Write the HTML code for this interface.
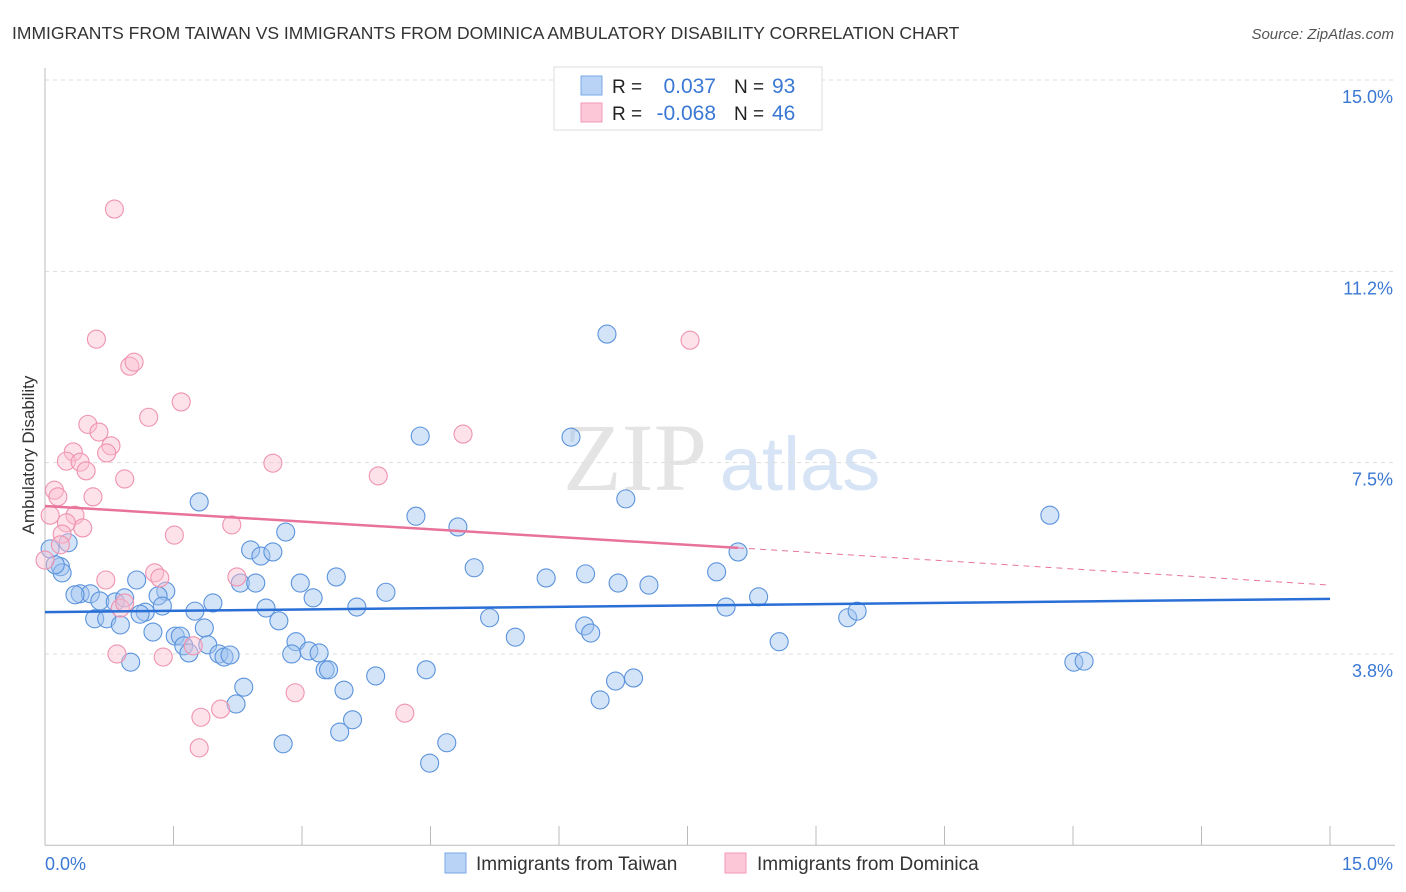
<!DOCTYPE html>
<html><head><meta charset="utf-8"><style>
body{margin:0;background:#fff;font-family:"Liberation Sans",sans-serif;}
svg{display:block}
</style></head><body>
<svg id="chart" width="1406" height="892">
<text x="12" y="39" font-size="17.5" fill="#333">IMMIGRANTS FROM TAIWAN VS IMMIGRANTS FROM DOMINICA AMBULATORY DISABILITY CORRELATION CHART</text>
<text x="1394" y="39" font-size="15" fill="#555" font-style="italic" text-anchor="end">Source: ZipAtlas.com</text>
<text x="34" y="455" font-size="17" fill="#333" text-anchor="middle" transform="rotate(-90 34 455)">Ambulatory Disability</text>
<g><text x="635" y="490" font-size="96" fill="#e4e4e4" font-family="Liberation Serif,serif" text-anchor="middle">ZIP</text><text x="800" y="490" font-size="76" fill="#d6e4f5" text-anchor="middle">atlas</text></g>
<g id="grid"></g><g id="axes"></g><g id="pts"></g><g id="lines"></g>
<g>
<rect x="554" y="67" width="268" height="63" fill="#fff" stroke="#ddd"/>
<rect x="581" y="76" width="21" height="19" fill="#b8d3f5" stroke="#7aa8e6"/>
<rect x="581" y="103" width="21" height="19" fill="#fcc8d7" stroke="#f09ab4"/>
<text x="612" y="93" font-size="19" fill="#222">R = </text><text x="716" y="93" font-size="21" fill="#3a78d4" text-anchor="end">0.037</text>
<text x="734" y="93" font-size="19" fill="#222">N = </text><text x="772" y="93" font-size="21" fill="#3a78d4">93</text>
<text x="612" y="120" font-size="19" fill="#222">R = </text><text x="716" y="120" font-size="21" fill="#3a78d4" text-anchor="end">-0.068</text>
<text x="734" y="120" font-size="19" fill="#222">N = </text><text x="772" y="120" font-size="21" fill="#3a78d4">46</text>
</g>
<g>
<rect x="445" y="853" width="21" height="20" fill="#b8d3f5" stroke="#7aa8e6"/>
<text x="476" y="870" font-size="19" fill="#333">Immigrants from Taiwan</text>
<rect x="725" y="853" width="21" height="20" fill="#fcc8d7" stroke="#f09ab4"/>
<text x="757" y="870" font-size="19" fill="#333">Immigrants from Dominica</text>
</g>
</svg>
<script>
const yTicks=[3.8,7.5,11.2,15.0];
const yTickLabels=["3.8%","7.5%","11.2%","15.0%"];
const xTickLabels=["0.0%","15.0%"];
const taiwanX=[6.56,4.38,6.14,6.78,1.80,4.33,4.82,2.81,11.73,8.09,2.40,2.52,2.66,5.01,3.40,1.07,2.98,2.28,2.46,5.85,6.31,6.69,7.05,7.84,3.98,3.13,1.41,1.32,0.41,0.53,0.35,0.64,0.82,0.93,1.17,1.37,1.96,1.75,2.58,3.64,5.19,7.95,8.33,9.37,9.48,0.58,0.72,0.88,1.11,1.26,1.52,1.58,1.86,2.73,1.62,1.68,1.90,2.03,2.09,2.16,2.93,2.88,3.08,3.20,3.27,3.31,5.49,6.30,6.37,8.57,1.00,2.32,2.23,3.49,3.86,4.45,6.66,6.87,6.48,12.01,12.13,2.78,3.44,3.59,4.69,4.49,0.18,0.20,0.27,0.12,0.06];
const taiwanY=[10.02,8.02,8.00,6.79,6.73,6.45,6.24,6.14,6.47,5.75,5.79,5.67,5.75,5.44,5.26,5.20,5.14,5.14,5.14,5.24,5.32,5.14,5.10,5.36,4.96,4.85,4.98,4.89,4.93,4.93,4.91,4.79,4.77,4.85,4.57,4.69,4.75,4.59,4.65,4.67,4.46,4.67,4.87,4.46,4.59,4.44,4.44,4.32,4.53,4.18,4.10,4.10,4.26,4.40,3.91,3.77,3.93,3.75,3.69,3.73,3.99,3.75,3.81,3.77,3.44,3.44,4.08,4.30,4.16,3.99,3.59,3.10,2.77,3.04,3.32,3.44,3.22,3.28,2.85,3.59,3.61,1.99,2.22,2.46,2.01,1.61,5.46,5.34,5.93,5.50,5.81];
const dominicaX=[0.81,0.60,7.53,0.99,1.04,1.59,1.21,0.50,0.63,0.77,0.72,0.33,0.25,0.41,0.48,0.93,2.66,4.88,3.89,0.56,0.11,0.15,0.06,0.35,0.44,0.25,0.20,2.18,1.51,0.00,0.18,0.71,1.28,1.34,2.24,0.88,0.93,0.84,1.38,1.73,2.92,2.05,1.82,4.20,1.80];
const dominicaY=[12.47,9.92,9.90,9.39,9.47,8.69,8.39,8.25,8.10,7.83,7.69,7.71,7.53,7.51,7.34,7.18,7.49,8.06,7.24,6.83,6.96,6.83,6.47,6.47,6.22,6.32,6.10,6.28,6.08,5.59,5.89,5.20,5.34,5.24,5.26,4.65,4.75,3.75,3.69,3.91,2.99,2.67,2.51,2.59,1.91];
const taiwanTrend=[4.57,4.83];
const dominicaTrend=[6.65,5.83,5.10];
const dominicaSolidEnd=8.09;
const X0=45,X1=1330,YB=845.3,PPU=51.02;
const sx=v=>X0+(X1-X0)*v/15, sy=v=>YB-v*PPU;
const NS="http://www.w3.org/2000/svg";
function mk(tag,attrs,parent){const e=document.createElementNS(NS,tag);for(const k in attrs)e.setAttribute(k,attrs[k]);document.getElementById(parent).appendChild(e);return e;}
const gridV=[3.75,7.5,11.25,15];
gridV.forEach((v,i)=>{
 const l=mk('line',{x1:X0,x2:1395,y1:sy(v),y2:sy(v),stroke:'#ddd','stroke-dasharray':'4,4'},'grid');
 
 
 const t=mk('text',{x:1393,y:sy(v)+23,'font-size':18,fill:'#3a78d4','text-anchor':'end'},'axes');
 t.textContent=yTickLabels[i];
 
 
});
const ax=mk('line',{x1:X0,x2:X0,y1:68,y2:YB,stroke:'#bbb'},'axes');


const bx=mk('line',{x1:X0,x2:1395,y1:YB,y2:YB,stroke:'#bbb'},'axes');


for(let i=1;i<=10;i++){const x=sx(i*1.5);const tk=mk('line',{x1:x,x2:x,y1:826,y2:YB,stroke:'#bbb'},'axes');
 
 }
[[0,45,'start'],[1,1393,'end']].forEach(([i,x,a])=>{const t=mk('text',{x:x,y:870,'font-size':18,fill:'#3a78d4','text-anchor':a},'axes');t.textContent=xTickLabels[i];
 
 });
taiwanX.forEach((x,i)=>{const c=mk('circle',{cx:sx(x),cy:sy(taiwanY[i]),r:9,fill:'rgba(160,196,240,0.45)',stroke:'#5b93dc','stroke-width':1.1},'pts');
 
 });
dominicaX.forEach((x,i)=>{const c=mk('circle',{cx:sx(x),cy:sy(dominicaY[i]),r:9,fill:'rgba(250,190,208,0.45)',stroke:'#ef93b0','stroke-width':1.1},'pts');
 
 });
const tl=mk('line',{x1:sx(0),y1:sy(taiwanTrend[0]),x2:sx(15),y2:sy(taiwanTrend[1]),stroke:'#2a6fd6','stroke-width':2.5},'lines');


const dl=mk('line',{x1:sx(0),y1:sy(dominicaTrend[0]),x2:sx(dominicaSolidEnd),y2:sy(dominicaTrend[1]),stroke:'#e8739a','stroke-width':2.5},'lines');


const dd=mk('line',{x1:sx(dominicaSolidEnd),y1:sy(dominicaTrend[1]),x2:sx(15),y2:sy(dominicaTrend[2]),stroke:'#e8739a','stroke-width':1,'stroke-dasharray':'6,5'},'lines');


</script>
</body></html>
